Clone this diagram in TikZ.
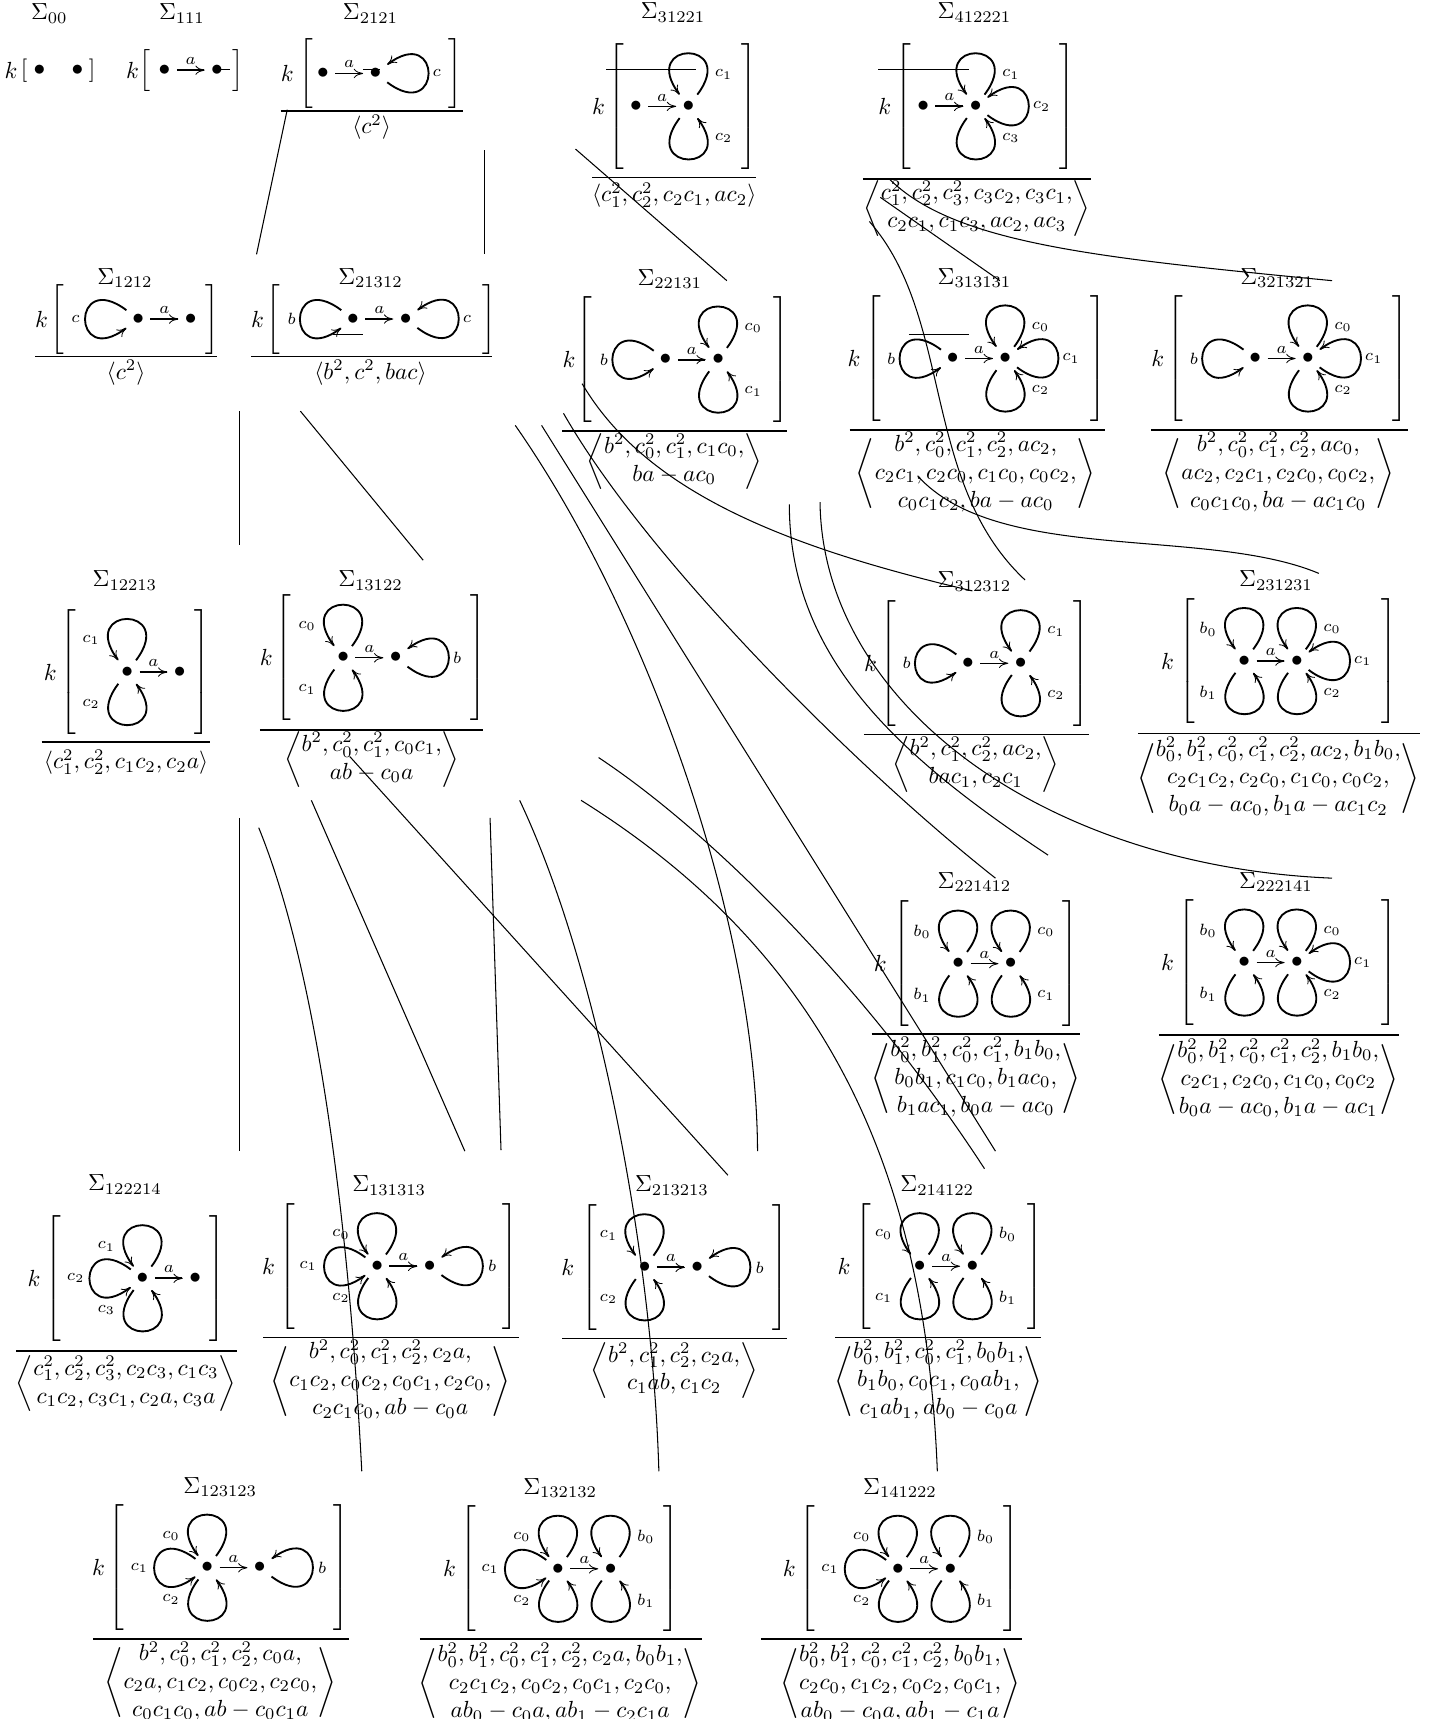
\documentclass[tikz,border=0pt]{standalone}
\usepackage{amsmath}
\usetikzlibrary{arrows.meta}

% one cell of the picture
\newcommand{\cellhead}[4]{\node[yshift=0.7pt] (#1_t) at (#2,#3) {$\Sigma_{#4}$};}
\newcommand{\cellbox}[6]{%
  \node (#1_k) at (#2,#5) {$k$};
  \node[lbrack] (#1_l) at (#3,#5) {$\left[\vcenter{\hbox{\rule{0pt}{#6pt}}}\right.$};
  \node[rbrack] (#1_r) at (#4,#5) {$\left.\vcenter{\hbox{\rule{0pt}{#6pt}}}\right]$};}
\newcommand{\cellpair}[4][]{%
  \node[dot] (#2_s) at (#3,#4) {$\bullet$};
  \node[dot] (#2_e) at (#3+48,#4) {$\bullet$};
  \draw[arrowa,#1] (#2_s) -- node[lab,above] (#2_a) {$a$} (#2_e);}
\newcommand{\cellrel}[8][]{%
  \coordinate (#2_b1) at (#3,#5);
  \coordinate (#2_b2) at (#4,#5);
  \draw[barline,#1] (#2_b1) -- (#2_b2);
  \node (#2_f) at (#6,#7) {$#8$};}
\newcommand{\cellgens}[1]{\left\langle\begin{array}{@{}c@{}}#1\end{array}\right\rangle}
% the loops at a dot
\newcommand{\loopup}[3]{\draw[petal] (#1) to[out=53,in=127,distance=29.6pt] (#1);
  \node[lab] (#1_up) at ([shift={(#3,-29)}]#1.center) {$#2$};}
\newcommand{\loopdown}[3]{\draw[petal] (#1) to[out=233,in=307,distance=29.6pt] (#1);
  \node[lab] (#1_dn) at ([shift={(#3,29)}]#1.center) {$#2$};}
\newcommand{\loopright}[3]{\draw[petal] (#1) to[out=-37,in=37,distance=29.6pt] (#1);
  \node[lab] (#1_rt) at ([shift={(#3,0)}]#1.center) {$#2$};}
\newcommand{\loopleft}[3]{\draw[petal] (#1) to[out=143,in=217,distance=29.6pt] (#1);
  \node[lab] (#1_lf) at ([shift={(#3,0)}]#1.center) {$#2$};}
% the long thin lines
\newcommand{\linkline}[5]{\coordinate (#1_a) at (#2,#3); \coordinate (#1_b) at (#4,#5);
  \draw[link] (#1_a) -- (#1_b);}
\newcommand{\linkcurve}[9]{\coordinate (#1_a) at (#2,#3); \coordinate (#1_b) at (#8,#9);
  \draw[link] (#1_a) .. controls (#4,#5) and (#6,#7) .. (#1_b);}

\begin{document}
\begin{tikzpicture}[x=0.4703pt, y=-0.4703pt,
    dot/.style={circle, inner sep=0pt, minimum size=12.2pt},
    lab/.style={font=\scriptsize, inner sep=2pt},
    lbrack/.style={anchor=west, inner sep=0pt, xshift=-3.4pt},
    rbrack/.style={anchor=east, inner sep=0pt, xshift=4.3pt},
    barline/.style={line width=0.75pt},
    thinbar/.style={line width=0.4pt},
    boldarrow/.style={line width=0.8pt},
    link/.style={line width=0.45pt},
    arrowa/.style={line width=0.5pt, shorten <=-1pt, shorten >=-1pt, -{To[length=4pt,width=4pt,line width=0.35pt]}},
    petal/.style={line width=0.8pt, -{To[length=4pt,width=4pt,line width=0.35pt]}},
  ]
  \useasboundingbox (0,0) rectangle (1308,1568);

  % top row
  \cellhead{s00}{45}{14}{00}
  \node (s00_k) at (10,64) {$k$};
  \node (s00_l) at (22,64) {$[$};
  \node (s00_r) at (84,64) {$]$};
  \node[dot] (s00_s) at (36,64) {$\bullet$};
  \node[dot] (s00_e) at (70.6,64) {$\bullet$};

  \cellhead{s111}{166}{14}{111}
  \cellbox{s111}{121}{134}{213}{64}{15}
  \cellpair[boldarrow]{s111}{150}{64}

  \cellhead{s2121}{338}{14}{2121}
  \cellbox{s2121}{262}{280}{413}{67}{27}
  \cellpair[boldarrow]{s2121}{294.5}{67}
  \loopright{s2121_e}{c}{56}
  \cellrel{s2121}{256}{422}{101}{339}{116}{\langle c^2\rangle}

  \cellhead{s31221}{614}{13}{31221}
  \cellbox{s31221}{546}{562}{682}{97}{55}
  \cellpair{s31221}{580}{97}
  \loopup{s31221_e}{c_1}{32}
  \loopdown{s31221_e}{c_2}{32}
  \cellrel{s31221}{540}{690}{162}{615}{178}{\langle c_1^2,c_2^2,c_2c_1,ac_2\rangle}

  \cellhead{s412221}{889}{13}{412221}
  \cellbox{s412221}{807}{824}{972}{97}{55}
  \cellpair[boldarrow]{s412221}{842}{97}
  \loopup{s412221_e}{c_1}{32}
  \loopright{s412221_e}{c_2}{60}
  \loopdown{s412221_e}{c_3}{32}
  \cellrel{s412221}{787}{995}{163}{891}{190}{\cellgens{c_1^2,c_2^2,c_3^2,c_3c_2,c_3c_1,\\ c_2c_1,c_1c_3,ac_2,ac_3}}

  % second row
  \cellhead{s1212}{114}{255}{1212}
  \cellbox{s1212}{38}{53}{191}{291}{27}
  \cellpair{s1212}{126}{291}
  \loopleft{s1212_s}{c}{-57}
  \cellrel[thinbar]{s1212}{32}{198}{325}{115}{340}{\langle c^2\rangle}

  \cellhead{s21312}{338}{255}{21312}
  \cellbox{s21312}{235}{250}{444}{291}{27}
  \cellpair{s21312}{322}{291}
  \loopleft{s21312_s}{b}{-56}
  \loopright{s21312_e}{c}{56}
  \cellrel[thinbar]{s21312}{229}{449}{325}{338}{340}{\langle b^2,c^2,bac\rangle}

  \cellhead{s22131}{611}{256}{22131}
  \cellbox{s22131}{519}{533}{711}{328}{55}
  \cellpair[boldarrow]{s22131}{607}{328}
  \loopleft{s22131_s}{b}{-56}
  \loopup{s22131_e}{c_0}{32}
  \loopdown{s22131_e}{c_1}{32}
  \cellrel{s22131}{513}{718}{393}{615}{421}{\cellgens{b^2,c_0^2,c_1^2,c_1c_0,\\ ba-ac_0}}

  \cellhead{s313131}{889}{255}{313131}
  \cellbox{s313131}{779}{796}{1000}{327}{55}
  \cellpair{s313131}{869}{327}
  \loopleft{s313131_s}{b}{-56}
  \loopup{s313131_e}{c_0}{32}
  \loopright{s313131_e}{c_1}{60}
  \loopdown{s313131_e}{c_2}{32}
  \cellrel{s313131}{775}{1008}{392}{890}{432}{\cellgens{b^2,c_0^2,c_1^2,c_2^2,ac_2,\\ c_2c_1,c_2c_0,c_1c_0,c_0c_2,\\ c_0c_1c_2,ba-ac_0}}

  \cellhead{s321321}{1165}{255}{321321}
  \cellbox{s321321}{1056}{1072}{1276}{327}{55}
  \cellpair{s321321}{1145}{327}
  \loopleft{s321321_s}{b}{-56}
  \loopup{s321321_e}{c_0}{32}
  \loopright{s321321_e}{c_1}{60}
  \loopdown{s321321_e}{c_2}{32}
  \cellrel{s321321}{1050}{1284}{392}{1166}{432}{\cellgens{b^2,c_0^2,c_1^2,c_2^2,ac_0,\\ ac_2,c_2c_1,c_2c_0,c_0c_2,\\ c_0c_1c_0,ba-ac_1c_0}}

  % third row
  \cellhead{s12213}{114}{531}{12213}
  \cellbox{s12213}{46}{62}{183}{613}{55}
  \cellpair{s12213}{116}{613}
  \loopup{s12213_s}{c_1}{-33}
  \loopdown{s12213_s}{c_2}{-33}
  \cellrel{s12213}{38}{192}{677}{115}{695}{\langle c_1^2,c_2^2,c_1c_2,c_2a\rangle}

  \cellhead{s13122}{338}{531}{13122}
  \cellbox{s13122}{243}{258}{435}{600}{55}
  \cellpair{s13122}{313}{600}
  \loopup{s13122_s}{c_0}{-33}
  \loopdown{s13122_s}{c_1}{-33}
  \loopright{s13122_e}{b}{56}
  \cellrel{s13122}{237}{441}{666}{339}{693}{\cellgens{b^2,c_0^2,c_1^2,c_0c_1,\\ ab-c_0a}}

  \cellhead{s312312}{889}{532}{312312}
  \cellbox{s312312}{794}{810}{985}{605}{55}
  \cellpair{s312312}{883}{605}
  \loopleft{s312312_s}{b}{-56}
  \loopup{s312312_e}{c_1}{32}
  \loopdown{s312312_e}{c_2}{32}
  \cellrel{s312312}{788}{993}{670}{890}{697}{\cellgens{b^2,c_1^2,c_2^2,ac_2,\\ bac_1,c_2c_1}}

  \cellhead{s231231}{1164}{531}{231231}
  \cellbox{s231231}{1065}{1083}{1266}{603}{55}
  \cellpair[boldarrow]{s231231}{1135}{603}
  \loopup{s231231_s}{b_0}{-33}
  \loopdown{s231231_s}{b_1}{-33}
  \loopup{s231231_e}{c_0}{32}
  \loopright{s231231_e}{c_1}{60}
  \loopdown{s231231_e}{c_2}{32}
  \cellrel{s231231}{1038}{1295}{669}{1166}{710}{\cellgens{b_0^2,b_1^2,c_0^2,c_1^2,c_2^2,ac_2,b_1b_0,\\ c_2c_1c_2,c_2c_0,c_1c_0,c_0c_2,\\ b_0a-ac_0,b_1a-ac_1c_2}}

  % fourth row
  \cellhead{s221412}{889}{806}{221412}
  \cellbox{s221412}{803}{822}{975}{879}{55}
  \cellpair{s221412}{874}{879}
  \loopup{s221412_s}{b_0}{-33}
  \loopdown{s221412_s}{b_1}{-33}
  \loopup{s221412_e}{c_0}{32}
  \loopdown{s221412_e}{c_1}{32}
  \cellrel{s221412}{795}{985}{943}{890}{984}{\cellgens{b_0^2,b_1^2,c_0^2,c_1^2,b_1b_0,\\ b_0b_1,c_1c_0,b_1ac_0,\\ b_1ac_1,b_0a-ac_0}}

  \cellhead{s222141}{1164}{806}{222141}
  \cellbox{s222141}{1065}{1082}{1266}{878}{55}
  \cellpair{s222141}{1135}{878}
  \loopup{s222141_s}{b_0}{-33}
  \loopdown{s222141_s}{b_1}{-33}
  \loopup{s222141_e}{c_0}{32}
  \loopright{s222141_e}{c_1}{60}
  \loopdown{s222141_e}{c_2}{32}
  \cellrel{s222141}{1057}{1276}{944}{1166}{985}{\cellgens{b_0^2,b_1^2,c_0^2,c_1^2,c_2^2,b_1b_0,\\ c_2c_1,c_2c_0,c_1c_0,c_0c_2\\ b_0a-ac_0,b_1a-ac_1}}

  % fifth row
  \cellhead{s122214}{114}{1082}{122214}
  \cellbox{s122214}{31}{48}{197}{1166}{55}
  \cellpair[boldarrow]{s122214}{130}{1166}
  \loopup{s122214_s}{c_1}{-33}
  \loopleft{s122214_s}{c_2}{-61}
  \loopdown{s122214_s}{c_3}{-33}
  \cellrel{s122214}{15}{216}{1232}{115}{1262}{\cellgens{c_1^2,c_2^2,c_3^2,c_2c_3,c_1c_3\\ c_1c_2,c_3c_1,c_2a,c_3a}}

  \cellhead{s131313}{355}{1083}{131313}
  \cellbox{s131313}{245}{262}{464}{1155}{55}
  \cellpair[boldarrow]{s131313}{344}{1155}
  \loopup{s131313_s}{c_0}{-33}
  \loopleft{s131313_s}{c_1}{-63}
  \loopdown{s131313_s}{c_2}{-33}
  \loopright{s131313_e}{b}{57}
  \cellrel[thinbar]{s131313}{240}{473}{1220}{356}{1260}{\cellgens{b^2,c_0^2,c_1^2,c_2^2,c_2a,\\ c_1c_2,c_0c_2,c_0c_1,c_2c_0,\\ c_2c_1c_0,ab-c_0a}}

  \cellhead{s213213}{613}{1083}{213213}
  \cellbox{s213213}{518}{537}{710}{1156}{55}
  \cellpair[boldarrow]{s213213}{588}{1156}
  \loopup{s213213_s}{c_1}{-33}
  \loopdown{s213213_s}{c_2}{-33}
  \loopright{s213213_e}{b}{57}
  \cellrel{s213213}{513}{718}{1221}{615}{1250}{\cellgens{b^2,c_1^2,c_2^2,c_2a,\\ c_1ab,c_1c_2}}

  \cellhead{s214122}{855}{1083}{214122}
  \cellbox{s214122}{770}{787}{943}{1155}{55}
  \cellpair{s214122}{839}{1155}
  \loopup{s214122_s}{c_0}{-33}
  \loopdown{s214122_s}{c_1}{-33}
  \loopup{s214122_e}{b_0}{32}
  \loopdown{s214122_e}{b_1}{32}
  \cellrel[thinbar]{s214122}{762}{950}{1220}{856}{1260}{\cellgens{b_0^2,b_1^2,c_0^2,c_1^2,b_0b_1,\\ b_1b_0,c_0c_1,c_0ab_1,\\ c_1ab_1,ab_0-c_0a}}

  % bottom row
  \cellhead{s123123}{201}{1358}{123123}
  \cellbox{s123123}{90}{106}{310}{1430}{55}
  \cellpair{s123123}{189}{1430}
  \loopup{s123123_s}{c_0}{-33}
  \loopleft{s123123_s}{c_1}{-62}
  \loopdown{s123123_s}{c_2}{-33}
  \loopright{s123123_e}{b}{57}
  \cellrel{s123123}{85}{318}{1495}{201}{1535}{\cellgens{b^2,c_0^2,c_1^2,c_2^2,c_0a,\\ c_2a,c_1c_2,c_0c_2,c_2c_0,\\ c_0c_1c_0,ab-c_0c_1a}}

  \cellhead{s132132}{511}{1359}{132132}
  \cellbox{s132132}{410}{427}{611}{1431}{55}
  \cellpair{s132132}{509}{1431}
  \loopup{s132132_s}{c_0}{-33}
  \loopleft{s132132_s}{c_1}{-62}
  \loopdown{s132132_s}{c_2}{-33}
  \loopup{s132132_e}{b_0}{32}
  \loopdown{s132132_e}{b_1}{32}
  \cellrel{s132132}{383}{640}{1495}{511}{1536}{\cellgens{b_0^2,b_1^2,c_0^2,c_1^2,c_2^2,c_2a,b_0b_1,\\ c_2c_1c_2,c_0c_2,c_0c_1,c_2c_0,\\ ab_0-c_0a,ab_1-c_2c_1a}}

  \cellhead{s141222}{821}{1359}{141222}
  \cellbox{s141222}{720}{736}{921}{1431}{55}
  \cellpair{s141222}{819}{1431}
  \loopup{s141222_s}{c_0}{-33}
  \loopleft{s141222_s}{c_1}{-62}
  \loopdown{s141222_s}{c_2}{-33}
  \loopup{s141222_e}{b_0}{32}
  \loopdown{s141222_e}{b_1}{32}
  \cellrel{s141222}{694}{932}{1495}{821}{1536}{\cellgens{b_0^2,b_1^2,c_0^2,c_1^2,c_2^2,b_0b_1,\\ c_2c_0,c_1c_2,c_0c_2,c_0c_1,\\ ab_0-c_0a,ab_1-c_1a}}

  % short flat lines
  \linkline{h1}{202}{63}{210}{63}
  \linkline{h2}{331}{63}{347}{63}
  \linkline{h3}{553}{63}{635}{63}
  \linkline{h4}{801}{63}{884}{63}
  \linkline{h5}{829}{305}{884}{305}
  \linkline{h6}{304}{305}{331}{305}

  % straight links
  \linkline{n1}{262}{100}{234}{232}
  \linkline{n2}{442}{137}{442}{232}
  \linkline{n3}{525}{136}{663}{256}
  \linkline{n4}{803}{180}{912}{256}
  \linkline{n5}{218.4}{375}{218.4}{497}
  \linkline{n6}{274}{375}{386}{511}
  \linkline{n7}{494}{388}{908}{1050}
  \linkline{n8}{218.4}{746}{218.4}{1050}
  \linkline{n9}{284}{730}{424}{1050}
  \linkline{n10}{319}{690}{664}{1072}
  \linkline{n11}{447}{746}{457}{1049}

  % bent links
  \linkcurve{c1}{531}{350}{590}{450}{720}{500}{887}{539}
  \linkcurve{c2}{837}{434}{910}{515}{1100}{480}{1203}{523}
  \linkcurve{c3}{793}{202}{870}{290}{840}{440}{935}{529}
  \linkcurve{c4}{811}{163}{870}{222}{1000}{235}{1215}{256}
  \linkcurve{c5}{470}{388}{590}{560}{690}{840}{691}{1050}
  \linkcurve{c6}{514}{377}{590}{510}{780}{700}{908}{801}
  \linkcurve{c7}{720}{460}{720}{600}{820}{690}{956}{780}
  \linkcurve{c8}{748}{458}{750}{640}{950}{790}{1215}{801}
  \linkcurve{c9}{546}{691}{650}{760}{790}{900}{898}{1066}
  \linkcurve{c10}{530}{730}{770}{880}{845}{1090}{855}{1342}
  \linkcurve{c11}{236}{755}{295}{900}{320}{1150}{330}{1342}
  \linkcurve{c12}{474}{730}{545}{880}{595}{1140}{601}{1342}
\end{tikzpicture}
\end{document}
